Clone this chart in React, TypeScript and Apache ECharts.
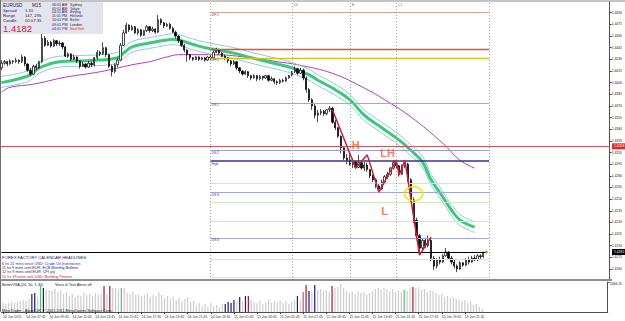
import React, { useEffect, useRef } from "react";
import * as echarts from "echarts";

const FONT = "'Liberation Sans', Arial, sans-serif";
const TOTAL_SLOTS = 210;

const timeLabels = [
  "14 Jun 2011", "14 Jun 07:45", "14 Jun 09:45", "14 Jun 11:45", "14 Jun 13:45", "14 Jun 15:45",
  "14 Jun 17:45", "14 Jun 19:45", "14 Jun 21:45", "14 Jun 23:45", "15 Jun 01:45", "15 Jun 03:45",
  "15 Jun 05:45", "15 Jun 07:45", "15 Jun 09:45", "15 Jun 11:45", "15 Jun 13:45", "15 Jun 15:45",
  "15 Jun 17:45", "15 Jun 19:45", "15 Jun 21:45",
];

const axisPrices = [
  1.449, 1.4475, 1.446, 1.4445, 1.443, 1.4415, 1.44, 1.4385, 1.437, 1.4355, 1.434, 1.4325,
  1.431, 1.4295, 1.428, 1.4265, 1.425, 1.4235, 1.422, 1.4205, 1.419, 1.4175, 1.416, 1.4145,
];

const open = [
  1.4419,1.4425,1.4427,1.4424,1.4428,1.4427,1.4429,1.4427,1.4433,1.4424,
  1.4416,1.4411,1.4421,1.4419,1.4427,1.4457,1.4448,1.4452,1.4447,1.4454,
  1.4450,1.4451,1.4446,1.4434,1.4437,1.4430,1.4433,1.4428,1.4421,1.4424,
  1.4420,1.4425,1.4423,1.4432,1.4439,1.4437,1.4445,1.4436,1.4421,1.4414,
  1.4423,1.4429,1.4448,1.4464,1.4474,1.4468,1.4472,1.4464,1.4468,1.4461,
  1.4467,1.4472,1.4467,1.4469,1.4465,1.4481,1.4477,1.4473,1.4475,1.4470,
  1.4465,1.4460,1.4454,1.4448,1.4442,1.4436,1.4432,1.4430,1.4433,1.4430,
  1.4432,1.4429,1.4433,1.4432,1.4439,1.4442,1.4438,1.4434,1.4432,1.4428,
  1.4424,1.4427,1.4419,1.4415,1.4411,1.4414,1.4409,1.4406,1.4409,1.4405,
  1.4408,1.4406,1.4409,1.4403,1.4405,1.4401,1.4400,1.4403,1.4402,1.4406,
  1.4409,1.4414,1.4418,1.4412,1.4416,1.4406,1.4391,1.4378,1.4370,1.4358,
  1.4361,1.4363,1.4360,1.4365,1.4367,1.4349,1.4342,1.4331,1.4316,1.4303,
  1.4300,1.4295,1.4298,1.4291,1.4297,1.4290,1.4294,1.4288,1.4280,1.4275,
  1.4267,1.4263,1.4272,1.4279,1.4282,1.4290,1.4297,1.4293,1.4282,1.4293,
  1.4295,1.4275,1.4249,1.4223,1.4203,1.4187,1.4197,1.4190,1.4197,1.4174,
  1.4164,1.4172,1.4169,1.4177,1.4182,1.4174,1.4169,1.4164,1.4160,1.4168,
  1.4165,1.4172,1.4169,1.4174,1.4172,1.4177,1.4176,
];

const close = [
  1.4425,1.4427,1.4424,1.4428,1.4427,1.4429,1.4427,1.4433,1.4424,1.4416,
  1.4411,1.4421,1.4419,1.4427,1.4457,1.4448,1.4452,1.4447,1.4454,1.4450,
  1.4451,1.4446,1.4434,1.4437,1.4430,1.4433,1.4428,1.4421,1.4424,1.4420,
  1.4425,1.4423,1.4432,1.4439,1.4437,1.4445,1.4436,1.4421,1.4414,1.4423,
  1.4429,1.4448,1.4464,1.4474,1.4468,1.4472,1.4464,1.4468,1.4461,1.4467,
  1.4472,1.4467,1.4469,1.4465,1.4481,1.4477,1.4473,1.4475,1.4470,1.4465,
  1.4460,1.4454,1.4448,1.4442,1.4436,1.4432,1.4430,1.4433,1.4430,1.4432,
  1.4429,1.4433,1.4432,1.4439,1.4442,1.4438,1.4434,1.4432,1.4428,1.4424,
  1.4427,1.4419,1.4415,1.4411,1.4414,1.4409,1.4406,1.4409,1.4405,1.4408,
  1.4406,1.4409,1.4403,1.4405,1.4401,1.4400,1.4403,1.4402,1.4406,1.4409,
  1.4414,1.4418,1.4412,1.4416,1.4406,1.4391,1.4378,1.4370,1.4358,1.4361,
  1.4363,1.4360,1.4365,1.4367,1.4349,1.4342,1.4331,1.4316,1.4303,1.4300,
  1.4295,1.4298,1.4291,1.4297,1.4290,1.4294,1.4288,1.4280,1.4275,1.4267,
  1.4263,1.4272,1.4279,1.4282,1.4290,1.4297,1.4293,1.4282,1.4293,1.4295,
  1.4275,1.4249,1.4223,1.4203,1.4187,1.4197,1.4190,1.4197,1.4174,1.4164,
  1.4172,1.4169,1.4177,1.4182,1.4174,1.4169,1.4164,1.4160,1.4168,1.4165,
  1.4172,1.4169,1.4174,1.4172,1.4177,1.4176,1.4182,
];

const low = [
  1.4416,1.4423,1.4421,1.4423,1.4424,1.4425,1.4424,1.4425,1.4421,1.4414,
  1.4409,1.4410,1.4416,1.4418,1.4425,1.4446,1.4447,1.4445,1.4446,1.4447,
  1.4447,1.4443,1.4433,1.4432,1.4428,1.4429,1.4425,1.4418,1.4420,1.4418,
  1.4419,1.4420,1.4421,1.4430,1.4434,1.4436,1.4433,1.4419,1.4408,1.4412,
  1.4420,1.4428,1.4447,1.4463,1.4465,1.4467,1.4463,1.4461,1.4459,1.4460,
  1.4465,1.4464,1.4465,1.4463,1.4464,1.4474,1.4470,1.4472,1.4468,1.4464,
  1.4457,1.4451,1.4446,1.4439,1.4427,1.4429,1.4428,1.4429,1.4428,1.4429,
  1.4427,1.4428,1.4429,1.4430,1.4438,1.4436,1.4433,1.4429,1.4425,1.4421,
  1.4423,1.4416,1.4412,1.4409,1.4410,1.4406,1.4403,1.4405,1.4402,1.4403,
  1.4403,1.4405,1.4401,1.4402,1.4398,1.4397,1.4398,1.4400,1.4401,1.4405,
  1.4408,1.4412,1.4410,1.4411,1.4403,1.4387,1.4375,1.4365,1.4354,1.4349,
  1.4358,1.4357,1.4358,1.4362,1.4347,1.4339,1.4329,1.4309,1.4300,1.4295,
  1.4293,1.4290,1.4289,1.4290,1.4288,1.4286,1.4285,1.4277,1.4272,1.4264,
  1.4258,1.4262,1.4270,1.4276,1.4280,1.4288,1.4290,1.4279,1.4281,1.4290,
  1.4272,1.4245,1.4219,1.4199,1.4178,1.4184,1.4187,1.4188,1.4170,1.4159,
  1.4161,1.4166,1.4168,1.4176,1.4172,1.4166,1.4161,1.4156,1.4159,1.4163,
  1.4164,1.4166,1.4168,1.4170,1.4170,1.4173,1.4174,
];

const high = [
  1.4429,1.4429,1.4428,1.4430,1.4429,1.4432,1.4430,1.4436,1.4434,1.4425,
  1.4419,1.4423,1.4424,1.4428,1.4463,1.4460,1.4455,1.4454,1.4456,1.4455,
  1.4454,1.4452,1.4447,1.4439,1.4438,1.4436,1.4434,1.4429,1.4427,1.4425,
  1.4428,1.4427,1.4433,1.4442,1.4441,1.4452,1.4446,1.4437,1.4423,1.4425,
  1.4432,1.4451,1.4468,1.4477,1.4475,1.4474,1.4473,1.4470,1.4469,1.4468,
  1.4474,1.4473,1.4472,1.4470,1.4487,1.4483,1.4478,1.4477,1.4477,1.4472,
  1.4467,1.4461,1.4455,1.4450,1.4443,1.4437,1.4433,1.4434,1.4434,1.4433,
  1.4433,1.4434,1.4436,1.4441,1.4445,1.4443,1.4439,1.4436,1.4433,1.4429,
  1.4429,1.4428,1.4420,1.4416,1.4416,1.4415,1.4410,1.4411,1.4410,1.4410,
  1.4409,1.4410,1.4410,1.4408,1.4406,1.4403,1.4405,1.4405,1.4408,1.4410,
  1.4415,1.4421,1.4419,1.4419,1.4418,1.4408,1.4393,1.4380,1.4373,1.4365,
  1.4366,1.4365,1.4366,1.4370,1.4369,1.4352,1.4343,1.4332,1.4318,1.4308,
  1.4311,1.4303,1.4300,1.4307,1.4299,1.4298,1.4297,1.4289,1.4282,1.4277,
  1.4270,1.4275,1.4281,1.4285,1.4291,1.4300,1.4299,1.4294,1.4295,1.4299,
  1.4297,1.4277,1.4252,1.4226,1.4205,1.4200,1.4200,1.4203,1.4199,1.4177,
  1.4174,1.4176,1.4179,1.4187,1.4183,1.4177,1.4172,1.4166,1.4170,1.4169,
  1.4174,1.4176,1.4177,1.4178,1.4179,1.4179,1.4182,
];

const volume = [
  620,550,620,690,620,690,760,830,760,900,
  1240,1310,1030,1790,1650,1590,1520,1450,1590,1380,
  1520,1240,1380,1100,1240,1030,1170,1100,1310,1170,
  1240,1100,1310,1170,1240,1790,1240,1790,1650,1650,
  1590,1650,1650,1310,1240,1380,1170,1240,1100,1170,
  1310,1030,1170,1100,1380,1170,970,1100,900,1030,
  830,970,760,900,1030,690,760,480,620,410,
  550,340,620,410,480,340,550,550,690,620,
  830,690,1030,760,1100,1100,830,690,620,760,
  550,690,830,620,760,690,830,620,760,550,
  690,830,1100,830,1380,1860,1450,1380,1860,1520,
  1590,1450,1520,1380,1790,1650,1720,1930,1650,1450,
  1310,1380,1240,1450,1310,1380,1170,1310,1450,1590,
  1650,1520,1650,1590,1450,1590,1380,1520,1380,1520,
  1450,1650,1720,1650,1720,1520,1590,1380,1520,1450,
  1310,1170,1240,1030,1100,970,1030,900,830,760,
  830,620,690,480,550,340,210,
];
const volumeMax = 2066.15;

// VSA bar classes (bar indices)
const navyBars = [10, 11, 14, 77, 78, 79, 80, 82, 84, 102, 106, 108];
const redBars = [35, 37, 85, 105, 114, 142];
const greenBars = [13, 41, 139];
const pinkBars = [104];

// moving averages: [bar, price]
const emaFast = [
  [0,1.4400],[6,1.4405],[10,1.4410],[13,1.4419],[20,1.4427],[27,1.4428],[34,1.4429],[40,1.4432],
  [42,1.4438],[45,1.4446],[51,1.4451],[57,1.4455],[59,1.4456],[61,1.4455],[68,1.4447],[73,1.4443],
  [80,1.4438],[86,1.4432],[95,1.4424],[100,1.4419],[106,1.4410],[109,1.4403],[114,1.4393],[120,1.4378],
  [125,1.4358],[131,1.4342],[137,1.4326],[141,1.4313],[145,1.4298],[148,1.4275],[152,1.4253],
  [155,1.4236],[158,1.4223],[163,1.4214],
];
const bandUpper = [
  [0,1.4408],[6,1.4412],[10,1.4417],[13,1.4426],[20,1.4434],[27,1.4435],[34,1.4436],[40,1.4439],
  [42,1.4445],[45,1.4453],[51,1.4458],[57,1.4462],[59,1.4463],[61,1.4462],[68,1.4454],[73,1.4450],
  [80,1.4445],[86,1.4439],[95,1.4431],[100,1.4426],[106,1.4417],[109,1.4410],[114,1.4400],[120,1.4385],
  [125,1.4365],[131,1.4349],[137,1.4333],[141,1.4320],[145,1.4305],[148,1.4282],[152,1.4260],
  [155,1.4243],[158,1.4230],[163,1.4221],
];
const bandLower = [
  [0,1.4394],[6,1.4398],[10,1.4403],[13,1.4412],[20,1.4420],[27,1.4421],[34,1.4422],[40,1.4425],
  [42,1.4431],[45,1.4439],[51,1.4444],[57,1.4448],[59,1.4449],[61,1.4448],[68,1.4440],[73,1.4436],
  [80,1.4431],[86,1.4425],[95,1.4417],[100,1.4412],[106,1.4403],[109,1.4396],[114,1.4386],[120,1.4371],
  [125,1.4351],[131,1.4335],[137,1.4319],[141,1.4306],[145,1.4291],[148,1.4268],[152,1.4246],
  [155,1.4229],[158,1.4216],[163,1.4207],
];
const maSlow = [
  [0,1.4388],[3,1.4394],[11,1.4398],[22,1.4407],[34,1.4414],[45,1.4423],[51,1.4427],[57,1.4433],
  [61,1.4436],[73,1.4436],[86,1.4432],[95,1.4427],[102,1.4423],[114,1.4412],[125,1.4393],[132,1.4378],
  [141,1.4356],[152,1.4322],[158,1.4300],[163,1.4290],
];

const zigzag = [
  [114,1.4365],[122,1.4290],[126,1.4307],[130,1.4259],[136,1.4300],[137,1.4281],[139,1.4300],
  [144,1.4178],[148,1.4201],
];

const annotations = [
  { text: "H", bar: 122, price: 1.4320 },
  { text: "LH", bar: 133, price: 1.4309 },
  { text: "L", bar: 132, price: 1.4235 },
];
const circled = [[142, 1.4257]];

const levelPrices = [1.4490, 1.4443, 1.4432, 1.4374, 1.4313, 1.4299, 1.4271, 1.4259, 1.4246, 1.4221, 1.4200, 1.4172, 1.4150];
const levelNames = ["DF:1", "", "DF:5", "DS:1", "DS:2", "High", "", "DS:3", "", "", "DS:4", "", ""];
const levelStartBar = 72;
const levelEndBar = 168;
const separatorBars = [72, 100, 120, 136, 168];
const separatorNames = ["", "14", "H", "L1", ""];
const currentPrice = 1.4182;
const lastBar = 167;
const redLevel = 1.4318;

const levelColors = [
  "#dca48c", "#e0542a", "#cfc824", "#a4a4d8", "#9a9ad4", "#34348a", "#cfe8c8",
  "#a4a4d8", "#cfe8c8", "#cfe8c8", "#a4a4d8", "#cfe8c8", "#cfe8c8",
];
const levelWidths = [1, 1.3, 1.3, 1, 1, 1.6, 1, 1, 1, 1, 1, 1, 1];

export default function App() {
  const ref = useRef<HTMLDivElement>(null);

  useEffect(() => {
    const chart = echarts.init(ref.current as HTMLDivElement, null, { renderer: "svg" });
    const cats = Array.from({ length: TOTAL_SLOTS }, (_, i) => String(i));
    const showLabel = (i: number) => i % 8 === 0 && i / 8 < timeLabels.length;
    const candles = open.map((o, i) => [o, close[i], low[i], high[i]]);
    const volColor = (i: number) =>
      navyBars.includes(i) ? "#1c1c70" :
      redBars.includes(i) ? "#a3163a" :
      greenBars.includes(i) ? "#5cbc7c" :
      pinkBars.includes(i) ? "#e04a6a" : "#cdcdcd";

    const levelLines = levelPrices.map((p, k) => [
      {
        coord: [levelStartBar, p],
        name: levelNames[k],
        lineStyle: { color: levelColors[k], width: levelWidths[k], type: "solid" },
        label: {
          show: levelNames[k] !== "",
          position: "insideStartBottom",
          formatter: "{b}",
          fontSize: 3.4,
          color: "#404050",
          fontFamily: FONT,
          distance: 1,
        },
      },
      { coord: [levelEndBar, p] },
    ]);

    const option: any = {
      animation: false,
      backgroundColor: "#ffffff",
      grid: [
        { left: 0, right: 13, top: 2, height: 278 },
        { left: 0, right: 13, top: 282, height: 30 },
      ],
      xAxis: [
        {
          type: "category", gridIndex: 0, data: cats,
          axisLine: { show: false }, axisTick: { show: false }, axisLabel: { show: false },
          splitLine: { show: false },
        },
        {
          type: "category", gridIndex: 1, data: cats,
          axisLine: { show: true, lineStyle: { color: "#505050", width: 1 } },
          axisTick: {
            show: true, alignWithLabel: true, length: 2,
            interval: (i: number) => showLabel(i),
            lineStyle: { color: "#404040" },
          },
          axisLabel: {
            interval: (i: number) => showLabel(i),
            formatter: (v: string) => {
              const i = Number(v);
              return showLabel(i) ? timeLabels[i / 8] : "";
            },
            fontSize: 3.4, color: "#303030", align: "left", margin: 3, fontFamily: FONT,
          },
          splitLine: { show: false },
        },
      ],
      yAxis: [
        {
          type: "value", gridIndex: 0, position: "right",
          min: 1.41459, max: 1.45038,
          axisLine: { show: true, lineStyle: { color: "#505050", width: 1 } },
          axisTick: { show: true, customValues: axisPrices, length: 2, lineStyle: { color: "#404040" } },
          axisLabel: {
            customValues: axisPrices, formatter: (v: number) => v.toFixed(4),
            fontSize: 3.4, color: "#202020", margin: 2, fontFamily: FONT,
          },
          splitLine: { show: false },
        },
        {
          type: "value", gridIndex: 1, position: "right", min: 0, max: volumeMax,
          axisLine: { show: true, lineStyle: { color: "#505050", width: 1 } },
          axisTick: { show: true, customValues: [volumeMax], length: 2 },
          axisLabel: {
            customValues: [volumeMax], formatter: (v: number) => v.toFixed(2),
            fontSize: 3.4, color: "#202020", margin: 2, fontFamily: FONT, verticalAlign: "top",
          },
          splitLine: { show: false },
        },
      ],
      series: [
        {
          type: "line", name: "levels", xAxisIndex: 0, yAxisIndex: 0, data: [], silent: true,
          markLine: {
            silent: true, symbol: ["none", "none"], animation: false, precision: 5,
            data: [
              ...levelLines,
              ...separatorBars.map((b) => ({
                xAxis: b, lineStyle: { color: "#a8a8a8", type: [1, 2], width: 1 }, label: { show: false },
              })),
              { yAxis: redLevel, lineStyle: { color: "#c85858", width: 1, type: "solid" }, label: { show: false } },
              [
                { coord: [0, currentPrice], lineStyle: { color: "#000000", width: 1, type: "solid" }, label: { show: false } },
                { coord: [lastBar, currentPrice] },
              ],
            ],
          },
        },
        {
          type: "line", name: "maSlow", data: maSlow, smooth: 0.4, showSymbol: false,
          lineStyle: { color: "#b03cc0", width: 1 }, silent: true, z: 3,
        },
        {
          type: "line", name: "bandUpper", data: bandUpper, smooth: 0.4, showSymbol: false,
          lineStyle: { color: "#8ecadc", width: 1 }, silent: true, z: 3,
        },
        {
          type: "line", name: "bandLower", data: bandLower, smooth: 0.4, showSymbol: false,
          lineStyle: { color: "#8ecadc", width: 1 }, silent: true, z: 3,
        },
        {
          type: "line", name: "emaFast", data: emaFast, smooth: 0.4, showSymbol: false,
          lineStyle: { color: "#3cc87a", width: 3 }, silent: true, z: 3,
        },
        {
          type: "candlestick", name: "EURUSD", xAxisIndex: 0, yAxisIndex: 0, data: candles,
          barWidth: 1.8, silent: true, z: 4,
          itemStyle: {
            color: "#ffffff", color0: "#000000",
            borderColor: "#000000", borderColor0: "#000000", borderWidth: 0.7,
          },
        },
        {
          type: "line", name: "zigzag", data: zigzag, showSymbol: false,
          lineStyle: { color: "#c8203c", width: 1.5 }, silent: true, z: 5,
        },
        {
          type: "scatter", name: "circle", data: circled, symbol: "circle", symbolSize: [18, 14],
          itemStyle: { color: "rgba(0,0,0,0)", borderColor: "#f0e400", borderWidth: 2 }, silent: true, z: 6,
        },
        {
          type: "scatter", name: "lastDot", data: [[lastBar, currentPrice]], symbol: "circle", symbolSize: 3,
          itemStyle: { color: "#e0502a" }, silent: true, z: 6,
        },
        {
          type: "scatter", name: "annotations",
          data: annotations.map((a) => ({ value: [a.bar, a.price], name: a.text })),
          symbolSize: 0, silent: true, z: 6,
          label: {
            show: true, position: "inside", formatter: "{b}", fontSize: 11, fontWeight: "bold",
            color: "#f0602c", fontFamily: FONT,
          },
        },
        {
          type: "bar", name: "volume", xAxisIndex: 1, yAxisIndex: 1,
          data: volume.map((v, i) => ({ value: v, itemStyle: { color: volColor(i) } })),
          barWidth: 1.2, silent: true,
        },
      ],
    };

    chart.setOption(option);

    const yOf = (p: number) => chart.convertToPixel({ yAxisIndex: 0 }, p) as unknown as number;
    const xOf = (b: number) => chart.convertToPixel({ xAxisIndex: 0 }, b) as unknown as number;
    const yCur = yOf(currentPrice);
    const yRed = yOf(redLevel);

    const txt = (text: string, x: number, y: number, size: number, fill: string, extra: any = {}) => ({
      type: "text", x, y, silent: true,
      style: { text, fill, fontSize: size, fontFamily: FONT, textVerticalAlign: "middle", ...extra },
    });

    const times = ["06:01 AM", "05:01 AM", "04:01 AM", "11:01 PM", "10:01 PM", "09:01 PM", "04:01 PM"];
    const cities = ["Sydney", "Tokyo", "Beijing", "Helsinki", "Berlin", "London", "NewYork"];
    const rowsY = [4.7, 8.5, 12.4, 16.3, 20.3, 24.5, 29.2];

    const graphics: any[] = [
      { type: "rect", shape: { x: 0, y: 0, width: 625, height: 2 }, style: { fill: "#c4c4c4" }, silent: true },
      { type: "rect", shape: { x: 0, y: 0, width: 1, height: 312 }, style: { fill: "#707070" }, silent: true },
      { type: "rect", shape: { x: 0, y: 279, width: 612, height: 2 }, style: { fill: "#8c8c8c" }, silent: true, z: 10 },
      { type: "rect", shape: { x: 1, y: 2, width: 102, height: 32 }, style: { fill: "#e4e4ee" }, silent: true, z: 10 },
      txt("EURUSD", 3, 5.5, 4.6, "#202050", {}),
      txt("M15", 32, 5.5, 4.6, "#202050", {}),
      txt("Spread", 3, 10.6, 4.2, "#202050"),
      txt("1.10", 25, 10.6, 4.2, "#202050"),
      txt("Range", 3, 15.6, 4.2, "#202050"),
      txt("147, 295", 25, 15.6, 4.2, "#202050"),
      txt("Candle", 3, 20.6, 4.2, "#202050"),
      txt("00:07:35", 25, 20.6, 4.2, "#202050"),
      txt("1.4182", 3, 28.3, 9.5, "#c8204a"),
      ...times.map((t, k) => txt(t, 52, rowsY[k], 3.6, k === 6 ? "#2020c8" : "#202050")),
      ...cities.map((c, k) => txt(c, 70, rowsY[k], 3.6, k === 6 ? "#e02020" : "#202050")),
      txt("FOREX FACTORY CALENDAR HEADLINES:", 2, 257, 4.2, "#202060"),
      txt("6 hs 21 mins since USD: Crude Oil Inventories", 2, 263.6, 3.8, "#2828b0"),
      txt("11 hs 9 mins until EUR: ECB Monthly Bulletin", 2, 268, 3.8, "#202070"),
      txt("12 hs 9 mins until EUR: CPI y/y", 2, 272.4, 3.8, "#202070"),
      txt("15 hs 39 mins until USD: Building Permits", 2, 276.8, 3.8, "#c02040"),
      txt("BetterVSA (20, 50, 1.30)", 2, 285, 3.8, "#202020"),
      txt("Voice & Text Alerts off", 55, 285, 3.8, "#202020"),
      txt("MetaTrader - Alpari UK, \u00a9 2001-2011 MetaQuotes Software Corp.", 2, 310.5, 3.8, "#202020"),
      { type: "rect", shape: { x: 612, y: yRed - 3, width: 13, height: 6 }, style: { fill: "#e02a2a" }, silent: true, z: 10 },
      txt(redLevel.toFixed(4), 614, yRed, 3.4, "#ffffff", { z: 11 }),
      { type: "rect", shape: { x: 612, y: yCur - 3, width: 13, height: 6 }, style: { fill: "#000000" }, silent: true, z: 10 },
      txt(currentPrice.toFixed(4), 614, yCur, 3.4, "#ffffff"),
      ...separatorBars
        .map((b, k) => ({ b, n: separatorNames[k] }))
        .filter((s) => s.n !== "")
        .map((s) => txt(s.n, xOf(s.b) + 2, 5, 3.4, "#606060")),
    ];
    graphics.forEach((g) => { if (g.type === "text") g.z = 12; });
    chart.setOption({ graphic: graphics });

    return () => chart.dispose();
  }, []);

  return (
    <div
      ref={ref}
      style={{ position: "absolute", left: 0, top: 0, width: 625, height: 321, background: "#ffffff" }}
    />
  );
}
